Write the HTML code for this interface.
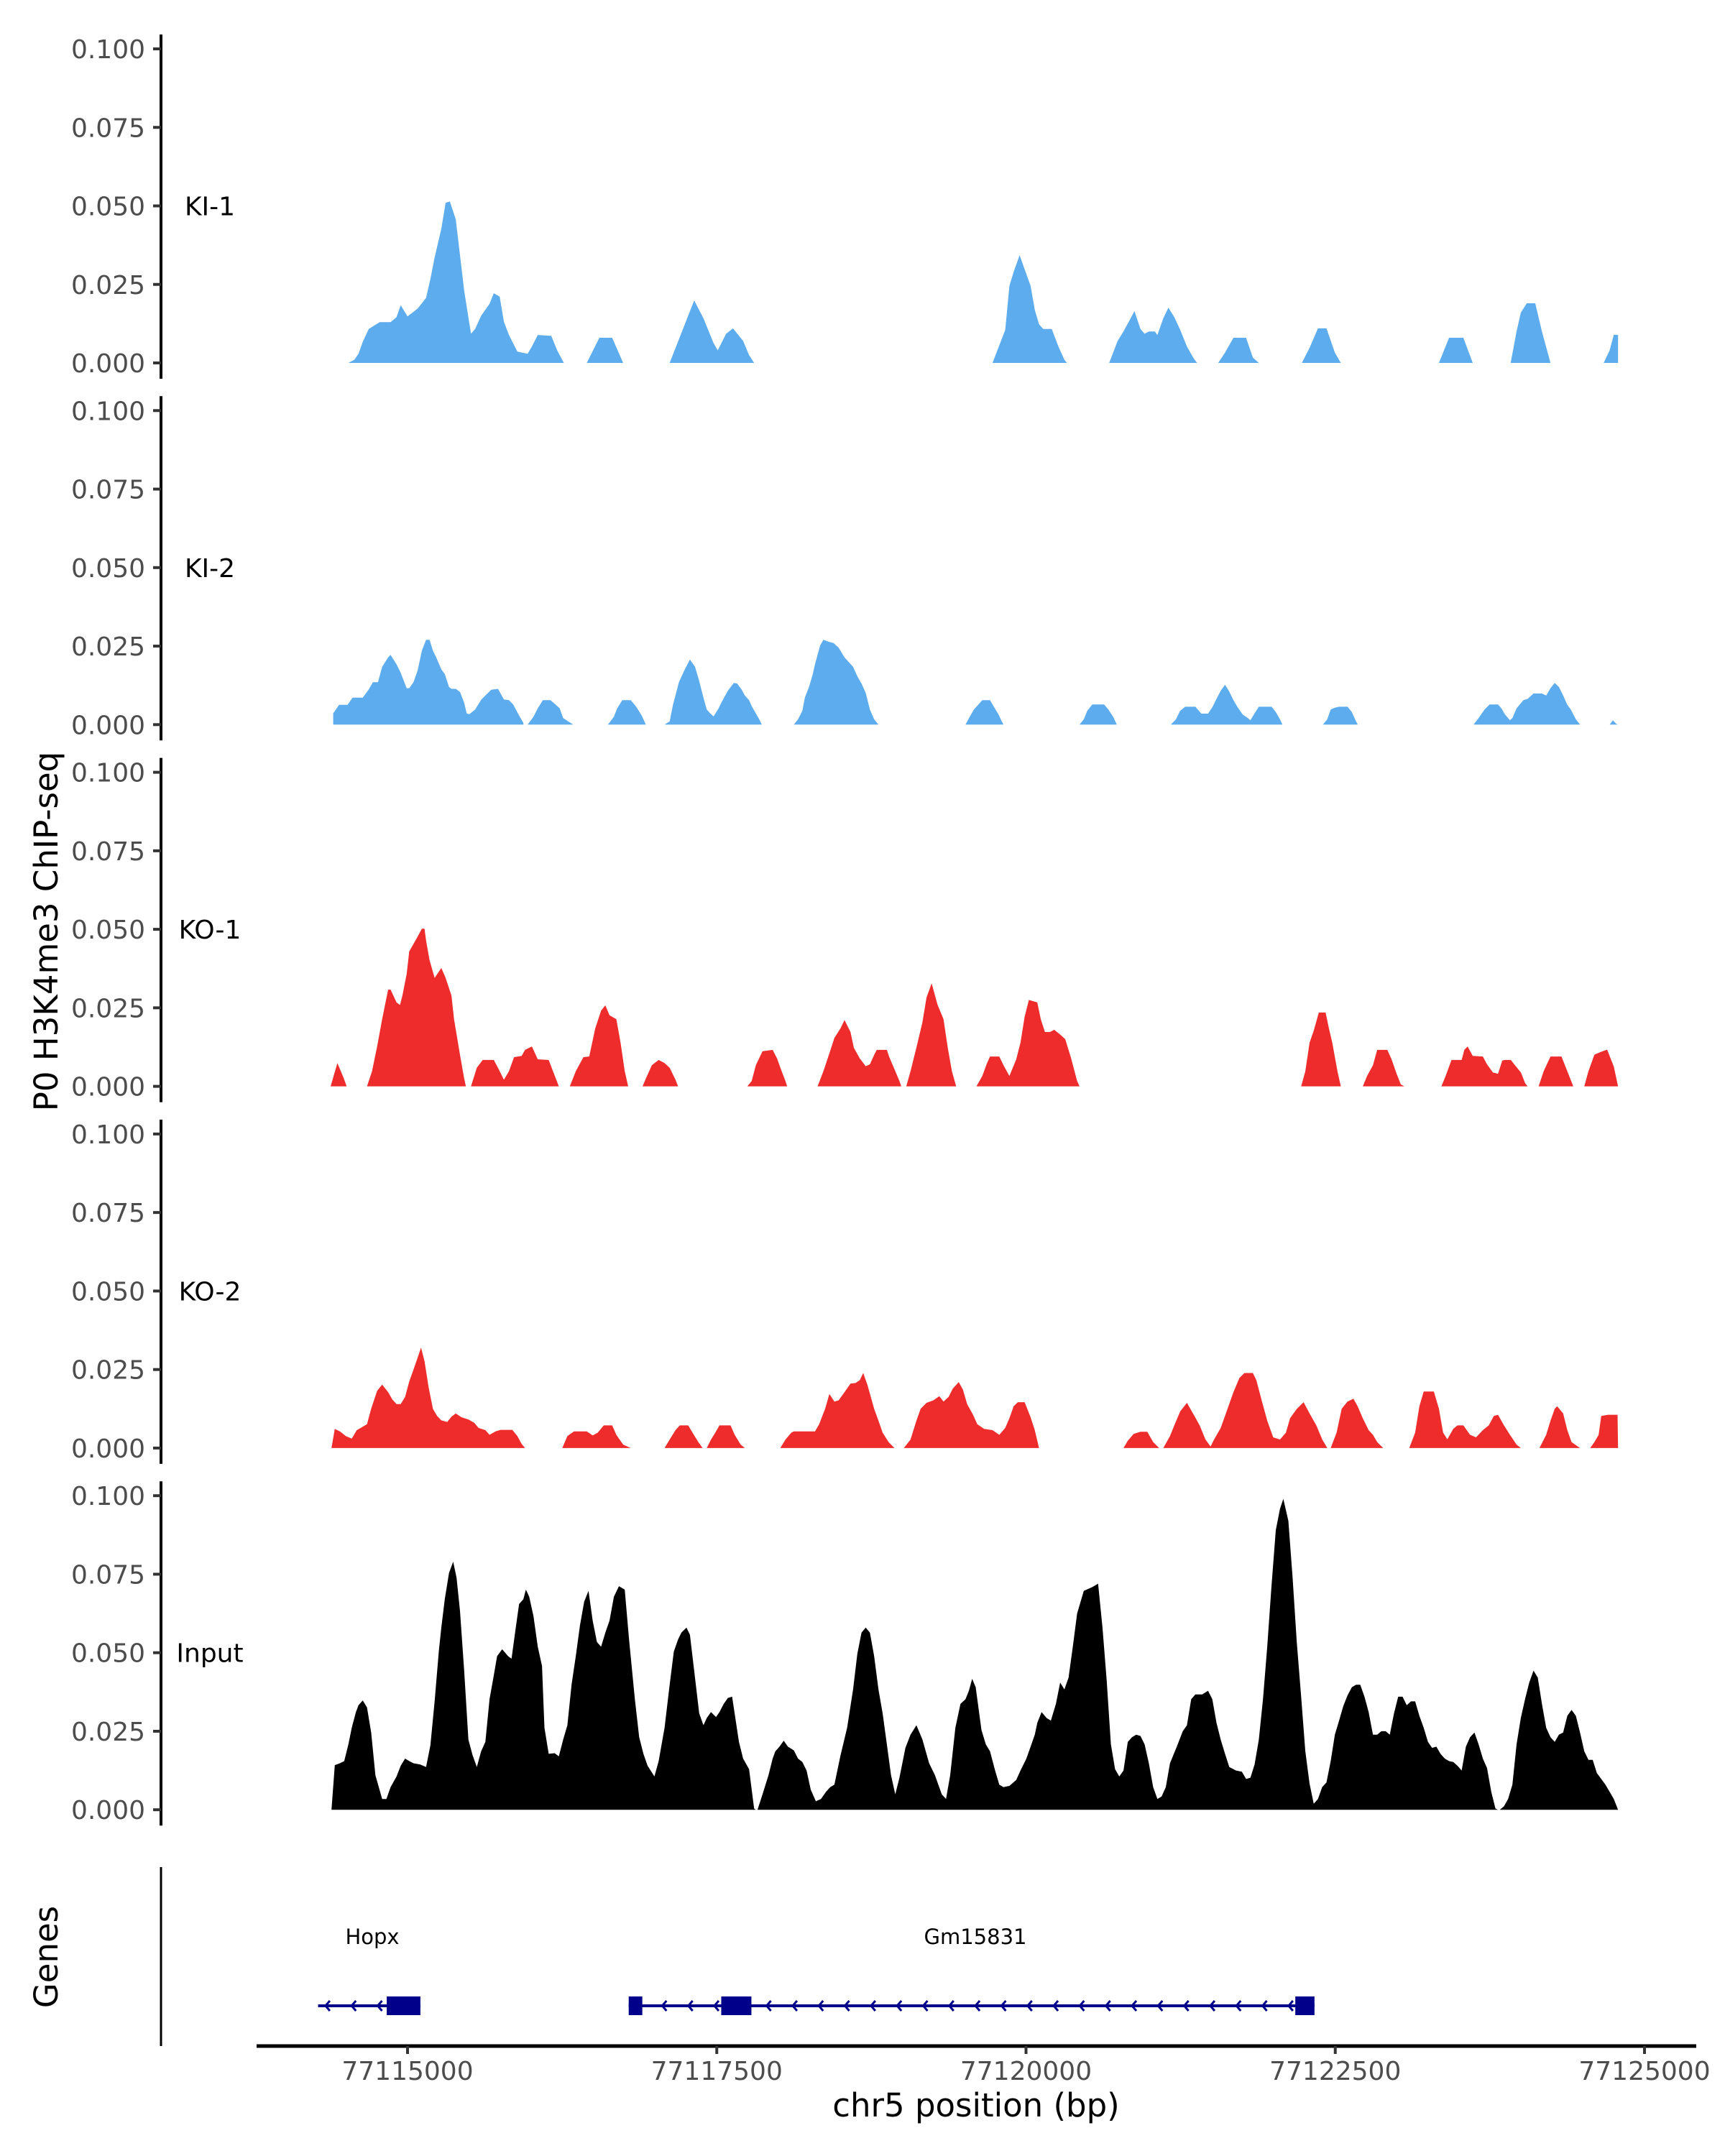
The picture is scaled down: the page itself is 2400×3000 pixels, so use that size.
<!DOCTYPE html>
<html>
<head>
<meta charset="utf-8">
<style>
  html,body{margin:0;padding:0;background:#fff;}
  svg{display:block;font-family:"DejaVu Sans","Liberation Sans",sans-serif;}
</style>
</head>
<body>
<svg id="chart" xmlns="http://www.w3.org/2000/svg" width="2400" height="3000" viewBox="0 0 2400 3000">
  <rect x="0" y="0" width="2400" height="3000" fill="#ffffff"/>
  <text x="0" y="0" transform="translate(80,1296) rotate(-90)" text-anchor="middle" font-size="45" fill="#000">P0 H3K4me3 ChIP-seq</text>
  <text x="0" y="0" transform="translate(80,2723) rotate(-90)" text-anchor="middle" font-size="45" fill="#000">Genes</text>
  <g id="tracks"></g>
  <g id="genes"></g>
  <g id="xaxis"></g>
  <text x="1358" y="2945" text-anchor="middle" font-size="45" fill="#000">chr5 position (bp)</text>
</svg>
<script>
// ---- data (positions are bp offsets from regionStart; values are normalized coverage) ----
const regionStart = 77114262;
const trackNames = ["KI-1", "KI-2", "KO-1", "KO-2", "Input"];
const trackColors = ["#5CACEE", "#5CACEE", "#EE2C2C", "#EE2C2C", "#000000"];
const yTicks = [0, 0.025, 0.05, 0.075, 0.1];
const yTickLabels = ["0.000", "0.025", "0.050", "0.075", "0.100"];
const xTicks = [77115000, 77117500, 77120000, 77122500, 77125000];
const xTickLabels = ["77115000", "77117500", "77120000", "77122500", "77125000"];

const ki1Pos = [260,308,342,376,424,513,601,649,683,738,820,888,923,957,1011,1046,1080,1128,1162,1196,1251,1285,1333,1401,1435,1483,1517,1558,1626,1709,1743,1791,1900,1948,2002,
 2187,2289,2392,2481,
 2857,2973,3055,3130,3212,3246,3314,3369,3451,3499,3540,
 5467,5536,5570,5604,5638,5686,5727,5775,5809,5843,5877,5946,6000,6048,6069,
 6410,6479,6526,6574,6615,6663,6697,6731,6779,6800,6848,6889,6937,6985,7039,7094,7121,
 7292,7347,7415,7517,7572,7620,
 7968,8030,8098,8167,8235,8283,
 9076,9158,9274,9349,
 9656,9704,9738,9786,9855,9909,9978,
 10408,10456,10490,10524];
const ki1Val = [0,0.001,0.0029,0.0067,0.0108,0.0130,0.0130,0.0146,0.0184,0.0148,0.0173,0.0207,0.0267,0.0336,0.0427,0.0510,0.0514,0.0457,0.0343,0.0230,0.0093,0.0108,0.0150,0.0188,0.0222,0.0211,0.0131,0.0089,0.0036,0.0029,0.0052,0.0089,0.0086,0.0040,0,
 0,0.008,0.008,0,
 0,0.0116,0.0199,0.0142,0.0063,0.004,0.0093,0.011,0.007,0.0025,0,
 0,0.007,0.0105,0.0245,0.029,0.0343,0.0298,0.0245,0.0169,0.0123,0.0108,0.0108,0.0052,0.001,0,
 0,0.007,0.010,0.0135,0.0165,0.0108,0.0093,0.010,0.010,0.0089,0.0142,0.0176,0.0146,0.0105,0.0052,0.0014,0,
 0,0.0033,0.008,0.008,0.0017,0,
 0,0.0048,0.011,0.011,0.0033,0,
 0,0.008,0.008,0,
 0,0.010,0.016,0.019,0.019,0.010,0,
 0,0.004,0.009,0.0089];

const ki2Pos = [137,137,185,253,294,376,424,458,499,533,581,601,649,683,731,752,786,820,854,888,916,943,970,1011,1039,1073,1093,1128,1162,1196,1216,1237,1285,1333,1367,1415,1469,1517,1558,1592,1640,1674,1675,
 1709,1756,1791,1832,1893,1934,1968,1996,2037,2078,
 2358,2406,2433,2474,2542,2583,2631,2665,
 2816,2857,2884,2932,2980,3021,3062,3096,3130,3157,3185,3212,3253,3280,3328,3376,3403,3438,3465,3499,3520,3554,3581,3602,
 3861,3895,3930,3950,3984,4012,4032,4073,4100,4141,4182,4223,4271,4305,4340,4374,4408,4442,4476,4510,4545,
 5249,5283,5317,5351,5385,5447,5481,5515,5542,5556,
 6171,6205,6233,6274,6369,6404,6445,6472,
 6909,6950,6984,7025,7107,7155,7210,7244,7278,7312,7347,7381,7415,7449,7490,7531,7552,7586,7620,7723,7757,7791,7811,
 8139,8173,8201,8235,8269,8337,8372,8406,8420,
 9356,9397,9445,9486,9554,9581,9609,9650,9670,9704,9759,9793,9841,9909,9943,9978,10012,10046,10080,10114,10142,10183,10217,
 10456,10483,10511,10524];
const ki2Val = [0,0.0036,0.0063,0.0063,0.0086,0.0086,0.0112,0.0135,0.0135,0.0184,0.0214,0.0222,0.0192,0.0165,0.0116,0.0116,0.0135,0.0173,0.0236,0.0270,0.0270,0.0236,0.0214,0.0176,0.0161,0.0120,0.0114,0.0114,0.0104,0.0070,0.0036,0.0033,0.0048,0.0079,0.0093,0.0111,0.0114,0.0080,0.0078,0.0064,0.0029,0.0006,0,
 0,0.0025,0.0052,0.0078,0.0078,0.0064,0.0052,0.0021,0.001,0,
 0,0.0025,0.0052,0.0078,0.0078,0.0059,0.0029,0,
 0,0.001,0.0063,0.0135,0.0176,0.0207,0.0184,0.0139,0.0086,0.0048,0.0036,0.0026,0.0052,0.0074,0.0108,0.0133,0.0131,0.0112,0.0093,0.0078,0.0059,0.0036,0.0017,0,
 0,0.0017,0.0044,0.0086,0.0120,0.0158,0.0192,0.0252,0.0270,0.0264,0.0260,0.0245,0.0214,0.0199,0.0184,0.0154,0.0131,0.0101,0.0048,0.0017,0,
 0,0.0025,0.0048,0.0063,0.0078,0.0078,0.0055,0.0033,0.001,0,
 0,0.0017,0.0044,0.0064,0.0064,0.0048,0.0023,0,
 0,0.0017,0.0044,0.0057,0.0057,0.0035,0.0035,0.0055,0.0082,0.0108,0.0127,0.0105,0.0078,0.0055,0.0032,0.0021,0.0014,0.0036,0.0057,0.0057,0.0040,0.0017,0,
 0,0.0017,0.0048,0.0054,0.0057,0.0057,0.0040,0.001,0,
 0,0.0021,0.0048,0.0064,0.0064,0.0052,0.0033,0.0014,0.0021,0.0052,0.0078,0.0082,0.0099,0.0099,0.0093,0.0116,0.0133,0.0120,0.0093,0.0063,0.0048,0.0017,0,
 0,0.0014,0.0002,0];

const ko1Pos = [116,171,219,246,
 410,451,492,533,581,601,649,677,697,731,752,806,854,875,888,916,957,1011,1046,1093,1114,1162,1196,1210,
 1251,1298,1346,1435,1469,1517,1558,1599,1661,1688,1743,1791,1879,1914,1961,
 2050,2098,2160,2207,2255,2303,2337,2371,2426,2460,2494,2522,
 2638,2665,2713,2768,2816,2857,2904,2925,
 3485,3520,3554,3608,3690,3725,3759,3793,3807,
 4053,4100,4148,4189,4237,4271,4319,4346,4394,4442,4476,4510,4531,4613,4633,4674,4715,4729,
 4770,4804,4852,4900,4934,4975,5023,5071,5105,5139,5173,
 5337,5385,5419,5447,5522,5556,5604,5659,5693,5727,5761,5829,5857,5891,5932,5966,6014,6055,6103,6151,6171,
 7962,7996,8030,8064,8105,8160,8187,8214,8256,8283,
 8461,8495,8543,8577,8659,8693,8734,8768,8796,
 9096,9130,9178,9260,9281,9308,9349,9431,9465,9513,9554,9588,9609,9657,9691,9739,9773,9793,
 9882,9923,9978,10067,10114,10162,
 10251,10285,10333,10388,10436,10490,10524];
const ko1Val = [0,0.0074,0.0029,0,
 0,0.0048,0.0127,0.0214,0.0308,0.0308,0.0267,0.0259,0.0289,0.0358,0.0430,0.0467,0.0502,0.0502,0.0464,0.0402,0.0345,0.0377,0.0345,0.0289,0.0214,0.0100,0.0025,0,
 0,0.0059,0.0084,0.0084,0.0059,0.0021,0.0048,0.0093,0.0097,0.0116,0.0127,0.0086,0.0084,0.0048,0,
 0,0.0048,0.0093,0.0095,0.0184,0.0241,0.0258,0.0226,0.0214,0.0139,0.0048,0,
 0,0.0025,0.0067,0.0084,0.0074,0.0059,0.0021,0,
 0,0.0017,0.0067,0.0112,0.0116,0.0089,0.0052,0.0017,0,
 0,0.0048,0.0105,0.0154,0.0184,0.0211,0.0173,0.0123,0.0089,0.0064,0.0070,0.0100,0.0116,0.0116,0.0093,0.0055,0.0017,0,
 0,0.0048,0.0123,0.0203,0.0283,0.0328,0.0260,0.0214,0.0123,0.0048,0,
 0,0.0033,0.0070,0.0095,0.0095,0.0067,0.0033,0.0086,0.0139,0.0222,0.0275,0.0267,0.0214,0.0173,0.0173,0.0180,0.0165,0.0150,0.0089,0.0017,0,
 0,0.0048,0.0139,0.0177,0.0235,0.0235,0.0184,0.0139,0.0048,0,
 0,0.0033,0.0067,0.0116,0.0116,0.0086,0.0040,0.0006,0,
 0,0.0033,0.0084,0.0084,0.0116,0.0127,0.0097,0.0095,0.0070,0.0044,0.0040,0.0082,0.0084,0.0084,0.0067,0.0044,0.001,0,
 0,0.0048,0.0095,0.0095,0.0048,0,
 0,0.0048,0.0101,0.011,0.0117,0.0063,0];

const ko2Pos = [123,150,191,239,287,328,376,410,444,492,533,581,615,649,683,718,752,786,820,847,875,909,943,977,1011,1059,1093,1128,1175,1230,1278,1312,1367,1401,1449,1490,1585,1626,1661,1688,
 1989,2030,2084,2187,2235,2276,2324,2392,2426,2481,2542,
 2816,2857,2904,2939,3007,3048,3089,3123,
 3157,3191,3226,3260,3349,3383,3431,3465,
 3752,3793,3841,3861,4032,4066,4114,4148,4189,4223,4271,4319,4360,4394,4422,4456,4510,4545,4579,4627,4674,
 4750,4804,4852,4886,4934,4989,5037,5071,5112,5146,5194,5228,5262,5310,5344,5399,5467,5522,5570,5604,5638,5672,5727,5775,5809,5843,
 6526,6561,6608,6663,6718,6766,6814,
 6848,6902,6937,6985,7039,7094,7142,7189,7230,7258,7312,7367,7415,7463,7504,7572,7600,7641,7688,7736,7791,7839,7873,7928,7982,8030,8085,8133,8174,
 8201,8249,8290,8337,8385,8419,8460,8508,8543,8577,8625,
 8836,8884,8918,8953,9035,9076,9110,9144,9192,9226,9274,9328,9376,9431,9479,9520,9554,9602,9650,9704,9738,
 9889,9943,9978,10012,10032,10080,10114,10148,10217,
 10299,10333,10367,10388,10443,10520,10524];
const ko2Val = [0,0.0061,0.0053,0.0038,0.0030,0.0057,0.0068,0.0076,0.0125,0.0182,0.0202,0.0178,0.0155,0.0140,0.0140,0.0163,0.0212,0.0250,0.0288,0.0320,0.0277,0.0193,0.0125,0.0102,0.0088,0.0083,0.0100,0.0110,0.0098,0.0091,0.0080,0.0064,0.0057,0.0042,0.0053,0.0058,0.0058,0.0038,0.0013,0,
 0,0.0038,0.0053,0.0053,0.0040,0.0049,0.0072,0.0072,0.0042,0.0011,0,
 0,0.0027,0.0057,0.0072,0.0072,0.0045,0.0019,0,
 0,0.0027,0.0049,0.0072,0.0072,0.0042,0.0011,0,
 0,0.0027,0.0049,0.0053,0.0053,0.0076,0.0125,0.0172,0.0148,0.0152,0.0178,0.0205,0.0207,0.0216,0.0239,0.0201,0.0125,0.0087,0.0049,0.0019,0,
 0,0.0027,0.0087,0.0125,0.0144,0.0152,0.0165,0.0148,0.0163,0.0189,0.0210,0.0186,0.0140,0.0106,0.0076,0.0061,0.0057,0.0042,0.0064,0.0095,0.0133,0.0146,0.0146,0.0098,0.0057,0,
 0,0.0023,0.0045,0.0052,0.0052,0.0019,0,
 0,0.0038,0.0072,0.0117,0.0144,0.0106,0.0072,0.0027,0.0005,0.0027,0.0064,0.0125,0.0178,0.0223,0.0239,0.0239,0.0216,0.0155,0.0087,0.0034,0.0027,0.0049,0.0095,0.0125,0.0146,0.0110,0.0072,0.0027,0,
 0,0.0049,0.0125,0.0148,0.0157,0.0133,0.0095,0.0057,0.0042,0.0019,0,
 0,0.0049,0.0133,0.0180,0.0180,0.0125,0.0049,0.0028,0.0061,0.0072,0.0072,0.0042,0.0034,0.0057,0.0072,0.0102,0.0106,0.0072,0.0042,0.0011,0,
 0,0.0042,0.0087,0.0125,0.0133,0.0110,0.0057,0.0019,0,
 0,0.0019,0.0042,0.0102,0.0106,0.0106,0];

const inputPos = [123,150,191,226,260,287,321,342,376,410,444,478,533,567,601,649,683,718,752,786,841,888,923,957,991,1011,1039,1073,1107,1134,1162,1196,1230,1264,1298,1333,1367,1401,1435,1462,1503,1551,1579,1613,1640,1674,1695,1722,1756,1791,1825,1845,1879,1927,1961,1996,2030,2064,2098,2132,2166,2201,2235,2269,2303,2337,2371,2406,2447,2494,2529,2576,2611,2645,2679,2734,2768,2816,2857,2891,2925,2952,2993,3021,3055,3096,3130,3157,3191,3232,3260,3294,3328,3362,3417,3451,3499,3540,3554,
 3567,3608,3656,3690,3711,3745,3779,3813,3861,3895,3930,3964,3998,4039,4080,4121,4155,4189,4237,4292,4340,4374,4408,4442,4476,4510,4545,4579,4613,4647,4681,4715,4763,4804,4852,4900,4955,5002,5057,5091,5125,5167,5208,5249,5276,5303,5331,5378,5413,5447,5488,5522,5556,5604,5659,5693,5741,5775,5809,5829,5864,5905,5939,5980,6014,6048,6082,6116,6151,6205,6274,6321,6356,6390,6424,6458,6492,6526,6561,6595,6629,6663,6697,6731,6766,6800,6834,6868,6902,6957,7005,7039,7073,7107,7162,7210,7244,7278,7312,7347,7381,7436,7483,7517,7552,7586,7620,7654,7688,7722,7757,7791,7818,7859,7893,7927,7962,7996,8030,8064,8098,8132,8167,8201,8235,8269,8303,8337,8372,8406,8440,8474,8508,8543,8577,8611,8645,8679,8713,8747,8782,8816,8850,8884,8918,8953,8987,9021,9055,9089,9123,9158,9192,9226,9260,9294,9328,9363,9397,9431,9465,9499,9533,9554,
 9568,9602,9635,9670,9704,9738,9772,9806,9841,9875,9909,9943,9978,10012,10046,10080,10114,10148,10183,10217,10251,10285,10319,10353,10388,10422,10456,10490,10524];
const inputVal = [0,0.0142,0.0148,0.0155,0.0208,0.0261,0.0311,0.0333,0.0348,0.0326,0.0246,0.0110,0.0034,0.0034,0.0072,0.0106,0.0140,0.0163,0.0155,0.0148,0.0144,0.0136,0.0205,0.0345,0.0504,0.0580,0.0670,0.0754,0.0790,0.0739,0.0633,0.0443,0.0223,0.0174,0.0136,0.0186,0.0216,0.0352,0.0428,0.0489,0.0511,0.0489,0.0481,0.0580,0.0655,0.0670,0.0701,0.0678,0.0617,0.0519,0.0458,0.0261,0.0178,0.0180,0.0170,0.0223,0.0269,0.0398,0.0489,0.0587,0.0663,0.0697,0.0602,0.0534,0.0519,0.0564,0.0602,0.0678,0.0712,0.0701,0.0542,0.0352,0.0231,0.0178,0.0140,0.0106,0.0155,0.0261,0.0398,0.0504,0.0542,0.0564,0.0580,0.0557,0.0443,0.0307,0.0269,0.0292,0.0311,0.0295,0.0311,0.0337,0.0356,0.0360,0.0216,0.0163,0.0129,0.0004,0,
 0,0.0049,0.0110,0.0163,0.0186,0.0201,0.0220,0.0201,0.0189,0.0163,0.0152,0.0125,0.0064,0.0027,0.0034,0.0057,0.0072,0.0080,0.0171,0.0261,0.0383,0.0496,0.0564,0.0580,0.0564,0.0489,0.0383,0.0307,0.0208,0.0110,0.0049,0.0102,0.0197,0.0239,0.0269,0.0224,0.0148,0.0110,0.0049,0.0034,0.0110,0.0261,0.0337,0.0352,0.0379,0.0417,0.0390,0.0254,0.0208,0.0186,0.0125,0.0080,0.0072,0.0076,0.0095,0.0125,0.0163,0.0201,0.0239,0.0277,0.0311,0.0292,0.0284,0.0337,0.0405,0.0383,0.0421,0.0519,0.0625,0.0697,0.0709,0.0720,0.0580,0.0413,0.0208,0.0129,0.0106,0.0125,0.0216,0.0231,0.0239,0.0235,0.0208,0.0148,0.0072,0.0034,0.0042,0.0072,0.0148,0.0201,0.0250,0.0269,0.0352,0.0367,0.0367,0.0379,0.0352,0.0277,0.0223,0.0178,0.0136,0.0125,0.0121,0.0098,0.0102,0.0144,0.0223,0.0352,0.0519,0.0708,0.0890,0.0958,0.0990,0.0920,0.0739,0.0534,0.0360,0.0186,0.0083,0.0019,0.0034,0.0072,0.0087,0.0155,0.0239,0.0284,0.0330,0.0364,0.0390,0.0398,0.0398,0.0360,0.0311,0.0239,0.0239,0.0250,0.0250,0.0239,0.0307,0.0360,0.0360,0.0333,0.0345,0.0345,0.0299,0.0261,0.0216,0.0197,0.0201,0.0178,0.0163,0.0155,0.0152,0.0140,0.0125,0.0201,0.0231,0.0246,0.0208,0.0163,0.0133,0.0057,0.0004,0,
 0,0.0011,0.0034,0.0080,0.0208,0.0292,0.0352,0.0405,0.0443,0.0421,0.0337,0.0261,0.0231,0.0216,0.0239,0.0246,0.0299,0.0318,0.0299,0.0246,0.0186,0.0159,0.0159,0.0117,0.0098,0.0080,0.0057,0.0034,0];

// genes
const geneNames = ["Hopx", "Gm15831"];
const geneStarts = [77114277, 77116788];
const geneEnds = [77115104, 77122332];
const exonStarts = [77114832, 77116788, 77117536, 77122177];
const exonEnds = [77115104, 77116898, 77117780, 77122332];
const exonGene = [0, 1, 1, 1];

// ---- scales ----
const SVGNS = "http://www.w3.org/2000/svg";
const xPx0 = 567, xPxPerBp = 0.1721;
function xScale(bp){ return xPx0 + (bp - 77115000) * xPxPerBp; }
const panelBase0 = 505, panelStep = 503.3, pxPerUnit = 4370;
function yScale(panel, v){ return panelBase0 + panel * panelStep - v * pxPerUnit; }
function mk(tag, attrs, parent){
  const el = document.createElementNS(SVGNS, tag);
  for (const k in attrs) el.setAttribute(k, attrs[k]);
  parent.appendChild(el);
  return el;
}

const tracksG = document.getElementById("tracks");
const seriesPos = [ki1Pos, ki2Pos, ko1Pos, ko2Pos, inputPos];
const seriesVal = [ki1Val, ki2Val, ko1Val, ko2Val, inputVal];

for (let p = 0; p < trackNames.length; p++) {
  const base = yScale(p, 0);
  const g = mk("g", {}, tracksG);
  
  
  const ax = mk("line", {x1:224, x2:224, y1: yScale(p, 0.1) - 20, y2: base + 22, stroke:"#000", "stroke-width":4}, g);
  
  
  for (let t = 0; t < yTicks.length; t++) {
    const ty = yScale(p, yTicks[t]);
    const tk = mk("line", {x1:213, x2:224, y1:ty, y2:ty, stroke:"#333", "stroke-width":4}, g);
    
    
    const tl = mk("text", {x:202, y:ty + 13, "text-anchor":"end", "font-size":36, fill:"#4d4d4d"}, g);
    tl.textContent = yTickLabels[t];
    
    
  }
  const lab = mk("text", {x:292, y:yScale(p, 0.05) + 13, "text-anchor":"middle", "font-size":36, fill:"#000"}, g);
  lab.textContent = trackNames[p];
  
  
  const pos = seriesPos[p], val = seriesVal[p];
  let d = "M" + xScale(regionStart + pos[0]).toFixed(1) + "," + base;
  for (let i = 0; i < pos.length; i++) {
    d += "L" + xScale(regionStart + pos[i]).toFixed(1) + "," + yScale(p, val[i]).toFixed(1);
  }
  d += "L" + xScale(regionStart + pos[pos.length - 1]).toFixed(1) + "," + base + "Z";
  const area = mk("path", {d: d, fill: trackColors[p], stroke: "none"}, g);
  
  
}

// ---- gene track ----
const genesG = document.getElementById("genes");
const gy = 2791;
const gax = mk("line", {x1:224, x2:224, y1:2598, y2:2847, stroke:"#000", "stroke-width":3}, genesG);


for (let i = 0; i < geneNames.length; i++) {
  const x1 = xScale(geneStarts[i]), x2 = xScale(geneEnds[i]);
  const gl = mk("line", {x1:x1, x2:x2, y1:gy, y2:gy, stroke:"#00008B", "stroke-width":4}, genesG);
  
  
  for (let bp = geneStarts[i] + 60; bp < geneEnds[i] - 40; bp += 211) {
    const ax = xScale(bp);
    const ch = mk("path", {d:"M" + (ax + 6) + "," + (gy - 7) + "L" + ax + "," + gy + "L" + (ax + 6) + "," + (gy + 7), fill:"none", stroke:"#00008B", "stroke-width":3}, genesG);
    
    
  }
  const nm = mk("text", {x:(i === 0 ? 518 : 1357), y:2705, "text-anchor":"middle", "font-size":29, fill:"#000"}, genesG);
  nm.textContent = geneNames[i];
  
  
}
for (let e = 0; e < exonStarts.length; e++) {
  const ex1 = xScale(exonStarts[e]), ex2 = xScale(exonEnds[e]);
  const r = mk("rect", {x:ex1, y:gy - 13, width:ex2 - ex1, height:26, fill:"#00008B"}, genesG);
  
  
}

// ---- x axis ----
const xg = document.getElementById("xaxis");
const xl = mk("line", {x1:357, x2:2360, y1:2847, y2:2847, stroke:"#000", "stroke-width":5}, xg);


for (let t = 0; t < xTicks.length; t++) {
  const tx = xScale(xTicks[t]);
  const tk = mk("line", {x1:tx, x2:tx, y1:2847, y2:2858, stroke:"#333", "stroke-width":4}, xg);
  
  
  const tl = mk("text", {x:tx, y:2894, "text-anchor":"middle", "font-size":36, fill:"#4d4d4d"}, xg);
  tl.textContent = xTickLabels[t];
  
  
}
</script>
</body>
</html>
